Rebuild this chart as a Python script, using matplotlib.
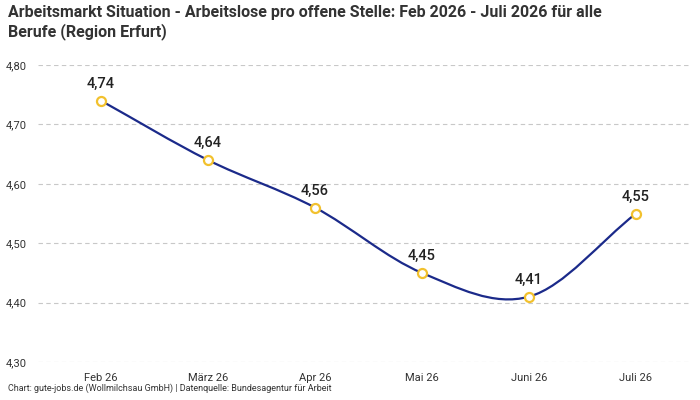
import numpy as np
import matplotlib
matplotlib.use("Agg")
import matplotlib.pyplot as plt
from matplotlib.path import Path
from matplotlib.patches import PathPatch

plt.rcParams["font.family"] = ["Roboto", "DejaVu Sans"]

months = ["Feb 26", "März 26", "Apr 26", "Mai 26", "Juni 26", "Juli 26"]
values = [4.74, 4.64, 4.56, 4.45, 4.41, 4.55]
yticks = [4.30, 4.40, 4.50, 4.60, 4.70, 4.80]

_BLUE = "#1b2a8a"
_YELLOW = "#f2c12e"


def _smooth_path(x, y):
    """Bezier-Pfad (Catmull-Rom) durch die Punkte."""
    x = np.asarray(x, float)
    y = np.asarray(y, float)
    n = len(x)
    m = np.zeros(n)
    m[0] = (y[1] - y[0]) / (x[1] - x[0])
    m[-1] = (y[-1] - y[-2]) / (x[-1] - x[-2])
    for i in range(1, n - 1):
        m[i] = (y[i + 1] - y[i - 1]) / (x[i + 1] - x[i - 1])
    verts = [(x[0], y[0])]
    codes = [Path.MOVETO]
    for i in range(n - 1):
        h = x[i + 1] - x[i]
        verts += [(x[i] + h / 3, y[i] + m[i] * h / 3),
                  (x[i + 1] - h / 3, y[i + 1] - m[i + 1] * h / 3),
                  (x[i + 1], y[i + 1])]
        codes += [Path.CURVE4] * 3
    return Path(verts, codes)


fig = plt.figure(figsize=(7, 4), dpi=100)
ax = fig.add_axes([0.054, 0.095, 0.931, 0.7425])

xs = np.arange(len(months))
ax.add_patch(PathPatch(_smooth_path(xs, values), fill=False, edgecolor=_BLUE, lw=1.6, zorder=3))
ax.plot(xs, values, ls="none", marker="o", ms=6.5, mfc="white", mec=_YELLOW, mew=1.6, zorder=4)
for x, v in zip(xs, values):
    ax.annotate(f"{v:.2f}".replace(".", ","), (x, v), xytext=(0, 7), textcoords="offset points",
                ha="center", va="bottom", fontsize=10.5, fontweight="medium", color="#222222")

ax.set_xlim(-0.59, 5.5)
ax.set_ylim(4.30, 4.80)
ax.set_xticks(xs, months)
ax.set_yticks(yticks, [f"{t:.2f}".replace(".", ",") for t in yticks])
ax.tick_params(length=0, labelsize=8, colors="#333333", pad=8)
ax.grid(axis="y", color="#c8c8c8", ls=(0, (4, 3)), lw=0.8)
for s in ax.spines.values():
    s.set_visible(False)

fig.text(0.012, 0.988, "Arbeitsmarkt Situation - Arbeitslose pro offene Stelle: Feb 2026 - Juli 2026 für alle\nBerufe (Region Erfurt)",
         ha="left", va="top", fontsize=11.5, fontweight="bold", color="#333333", linespacing=1.25)
fig.text(0.012, 0.018, "Chart: gute-jobs.de (Wollmilchsau GmbH) | Datenquelle: Bundesagentur für Arbeit",
         ha="left", va="bottom", fontsize=6.5, color="#333333")

fig.savefig("out.png", dpi=100)
